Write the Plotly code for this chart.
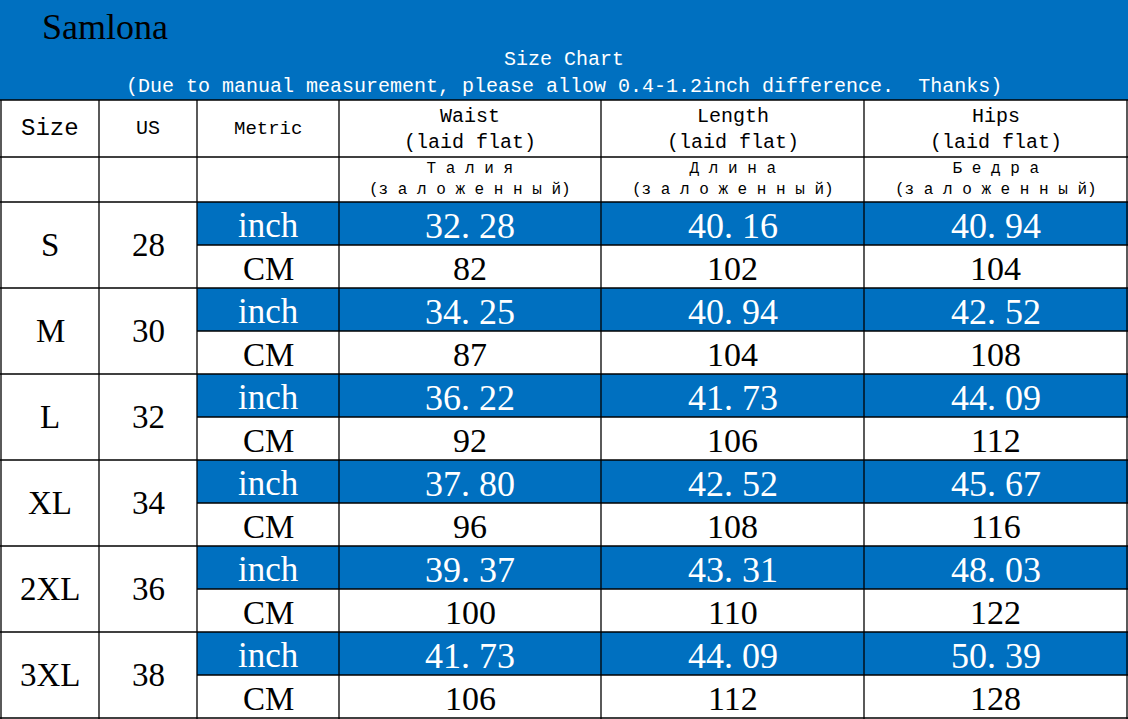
import plotly.graph_objects as go

W, H = 1128, 719
BLUE = "#0070C0"

sizes = ["S", "M", "L", "XL", "2XL", "3XL"]
us_sizes = ["28", "30", "32", "34", "36", "38"]
waist_inch = ["32.28", "34.25", "36.22", "37.80", "39.37", "41.73"]
waist_cm = ["82", "87", "92", "96", "100", "106"]
length_inch = ["40.16", "40.94", "41.73", "42.52", "43.31", "44.09"]
length_cm = ["102", "104", "106", "108", "110", "112"]
hips_inch = ["40.94", "42.52", "44.09", "45.67", "48.03", "50.39"]
hips_cm = ["104", "108", "112", "116", "122", "128"]
head_en = ["Waist<br>(laid flat)", "Length<br>(laid flat)", "Hips<br>(laid flat)"]
head_ru = ["Т а л и я<br>(з а л о ж е н н ы й)", "Д л и н а<br>(з а л о ж е н н ы й)",
           "Б е д р а<br>(з а л о ж е н н ы й)"]

cols = [1, 99, 197, 339, 601, 864, 1127]
y_head, y_r1, y_r2, row_h = 100, 157, 202, 43

fig = go.Figure()
shapes, ann = [], []


def text(x, y, s, size, color="black", font="Liberation Serif", xanchor="center"):
    ann.append(dict(x=x, y=y, text=s, showarrow=False, xanchor=xanchor, yanchor="middle",
                    font=dict(family=font, size=size, color=color)))


def rect(x0, y0, x1, y1, fill):
    shapes.append(dict(type="rect", x0=x0, y0=y0, x1=x1, y1=y1, fillcolor=fill,
                       line=dict(width=0), layer="below"))


def line(x0, y0, x1, y1):
    shapes.append(dict(type="line", x0=x0, y0=y0, x1=x1, y1=y1, line=dict(color="black", width=1.3)))


# title band
rect(0, 0, W, y_head, BLUE)
text(40, 27, "Samlona", 36, xanchor="left")
text(W / 2, 59, "Size Chart", 20, "white", "Liberation Mono")
text(W / 2, 86, "(Due to manual measurement, please allow 0.4-1.2inch difference.  Thanks)",
     20, "white", "Liberation Mono")

# header rows
mid = lambda i: (cols[i] + cols[i + 1]) / 2
text(mid(0), (y_head + y_r1) / 2, "Size", 24, font="Liberation Mono")
text(mid(1), (y_head + y_r1) / 2, "US", 20, font="Liberation Mono")
text(mid(2), (y_head + y_r1) / 2, "Metric", 19, font="Liberation Mono")
for k in range(3):
    text(mid(3 + k), (y_head + y_r1) / 2 + 1, head_en[k], 20, font="Liberation Mono")
    text(mid(3 + k), (y_r1 + y_r2) / 2, head_ru[k], 16, font="Liberation Mono")

# data rows
values = [(waist_inch, waist_cm), (length_inch, length_cm), (hips_inch, hips_cm)]
for i, s in enumerate(sizes):
    top = y_r2 + 2 * i * row_h
    rect(cols[2], top, W, top + row_h, BLUE)
    text(mid(0), top + row_h, s, 33)
    text(mid(1), top + row_h, us_sizes[i], 33)
    text(mid(2), top + row_h / 2 + 2, "inch", 35, "white")
    text(mid(2), top + 1.5 * row_h + 2, "CM", 33)
    for k, (vi, vc) in enumerate(values):
        text(mid(3 + k), top + row_h / 2 + 2, vi[i].replace(".", ". "), 36, "white")
        text(mid(3 + k), top + 1.5 * row_h + 2, vc[i], 34)
    line(0, top + 2 * row_h, W, top + 2 * row_h)
    line(cols[2], top + row_h, W, top + row_h)

# grid
line(0, y_head, W, y_head)
line(0, y_r1, W, y_r1)
line(0, y_r2, W, y_r2)
for c in cols:
    line(c, y_head, c, H)

fig.update_layout(
    width=W, height=H, margin=dict(l=0, r=0, t=0, b=0),
    paper_bgcolor="white", plot_bgcolor="white",
    xaxis=dict(range=[0, W], visible=False, fixedrange=True),
    yaxis=dict(range=[H, 0], visible=False, fixedrange=True),
    shapes=shapes, annotations=ann, showlegend=False,
)
fig.write_html("out.html", config={"displayModeBar": False},
               post_script="document.body.style.margin='0';document.body.style.overflow='hidden';")
